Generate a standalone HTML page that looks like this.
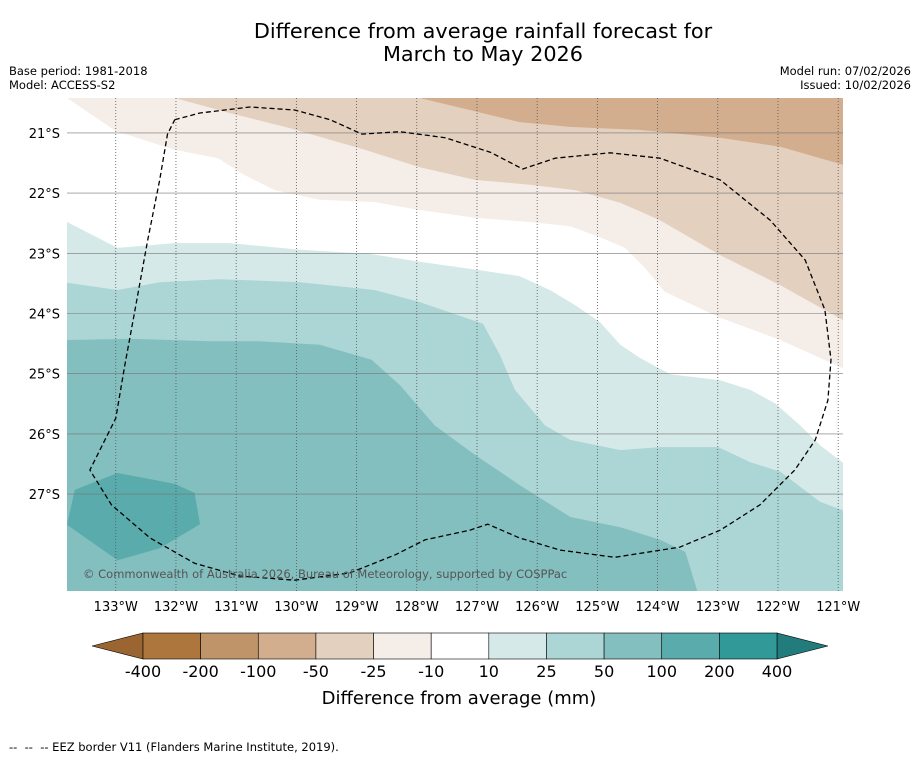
<!DOCTYPE html>
<html><head><meta charset="utf-8"><style>
html,body{margin:0;padding:0;background:#fff;}
body{width:919px;height:758px;overflow:hidden;font-family:"DejaVu Sans","Liberation Sans",sans-serif;}
svg text{font-family:"DejaVu Sans","Liberation Sans",sans-serif;}
</style></head><body>
<svg id="fig" width="919" height="758" viewBox="0 0 919 758">
<text x="483" y="38" font-size="20.8" text-anchor="middle">Difference from average rainfall forecast for</text>
<text x="483" y="61" font-size="20.8" text-anchor="middle">March to May 2026</text>
<text x="9" y="75" font-size="11.5">Base period: 1981-2018</text>
<text x="9" y="89" font-size="11.5">Model: ACCESS-S2</text>
<text x="911" y="75" font-size="11.5" text-anchor="end">Model run: 07/02/2026</text>
<text x="911" y="89" font-size="11.5" text-anchor="end">Issued: 10/02/2026</text>
<defs><clipPath id="mapclip"><rect x="67" y="98" width="776" height="493"/></clipPath></defs>
<g id="map" clip-path="url(#mapclip)"></g>
<g id="axes"></g>
<g id="cbar"></g>
<text x="459" y="704" font-size="18" text-anchor="middle">Difference from average (mm)</text>
<text x="9" y="751" font-size="11.5" xml:space="preserve">--  --  -- EEZ border V11 (Flanders Marine Institute, 2019).</text>
</svg>
<script>
// axis ticks
const lonTicks=[-133,-132,-131,-130,-129,-128,-127,-126,-125,-124,-123,-122,-121];
const latTicks=[-21,-22,-23,-24,-25,-26,-27];
// colorbar
const cbarLabels=["-400","-200","-100","-50","-25","-10","10","25","50","100","200","400"];
const cbarColors=["#ad763c","#c09469","#d2ad8e","#e3d0bf","#f5ede8","#ffffff","#d5e9e8","#acd5d5","#84bfbf","#5aabab","#329999"];
// contour boundaries [lon,lat]
const brownBand10=[[-133.81,-20.42],[-133,-20.97],[-132.02,-21.28],[-131.30,-21.42],[-130.86,-21.70],[-130.36,-21.95],[-129.61,-22.11],[-128.70,-22.15],[-127.95,-22.28],[-127.03,-22.41],[-126.12,-22.48],[-125.45,-22.55],[-124.96,-22.73],[-124.54,-22.91],[-124.21,-23.24],[-123.88,-23.64],[-122.96,-24.07],[-121.96,-24.44],[-120.92,-24.91]];
const brownBand25=[[-132.02,-20.42],[-131.11,-20.67],[-130.11,-20.92],[-128.86,-21.28],[-127.95,-21.57],[-127.03,-21.78],[-126.12,-21.86],[-125.37,-21.95],[-124.62,-22.16],[-123.96,-22.45],[-122.96,-23.03],[-121.96,-23.53],[-120.92,-24.11]];
const brownBand50=[[-127.95,-20.42],[-127.12,-20.62],[-126.29,-20.82],[-125.45,-20.90],[-124.29,-20.95],[-122.96,-21.08],[-121.96,-21.23],[-120.92,-21.53]];
const blueBand10=[[-133.81,-22.48],[-132.97,-22.91],[-132.02,-22.83],[-131.11,-22.83],[-129.94,-22.94],[-128.78,-23.01],[-127.95,-23.14],[-126.95,-23.28],[-126.29,-23.38],[-125.79,-23.61],[-125.37,-23.86],[-124.96,-24.14],[-124.62,-24.52],[-124.29,-24.74],[-123.79,-25.01],[-122.96,-25.11],[-122.46,-25.27],[-122.05,-25.49],[-121.63,-25.86],[-121.30,-26.19],[-120.92,-26.48]];
const blueBand25=[[-133.81,-23.49],[-132.97,-23.61],[-132.27,-23.48],[-131.27,-23.43],[-129.94,-23.48],[-128.70,-23.61],[-127.95,-23.81],[-126.90,-24.17],[-126.62,-24.69],[-126.37,-25.27],[-125.87,-25.86],[-125.45,-26.10],[-124.62,-26.27],[-123.96,-26.22],[-122.99,-26.22],[-122.46,-26.47],[-121.96,-26.63],[-121.30,-27.13],[-120.92,-27.27]];
const blueBand50=[[-133.81,-24.44],[-132.77,-24.42],[-131.44,-24.46],[-130.61,-24.46],[-129.61,-24.52],[-128.75,-24.77],[-128.28,-25.19],[-127.70,-25.86],[-127.03,-26.35],[-126.29,-26.85],[-125.45,-27.38],[-124.62,-27.55],[-123.96,-27.76],[-123.54,-27.96],[-123.34,-28.61]];
const blueBlob100=[[-133.68,-26.93],[-132.97,-26.65],[-132.02,-26.83],[-131.69,-26.98],[-131.60,-27.50],[-132.27,-27.90],[-132.97,-28.10],[-133.81,-27.51]];
const eez=[[-132.02,-20.78],[-131.60,-20.67],[-130.77,-20.57],[-130.03,-20.62],[-129.44,-20.78],[-128.91,-21.02],[-128.28,-20.98],[-127.53,-21.08],[-126.78,-21.32],[-126.24,-21.60],[-125.70,-21.42],[-124.79,-21.33],[-123.96,-21.42],[-122.96,-21.78],[-122.13,-22.45],[-121.55,-23.11],[-121.22,-23.94],[-121.12,-24.77],[-121.17,-25.44],[-121.38,-26.10],[-121.72,-26.60],[-122.30,-27.18],[-122.96,-27.60],[-123.63,-27.88],[-124.71,-28.05],[-125.62,-27.93],[-126.29,-27.73],[-126.82,-27.50],[-127.12,-27.60],[-127.86,-27.76],[-128.36,-28.01],[-129.11,-28.31],[-130.03,-28.43],[-130.94,-28.36],[-131.69,-28.15],[-132.43,-27.73],[-133.07,-27.18],[-133.43,-26.60],[-133.0,-25.74],[-132.85,-24.86],[-132.68,-23.94],[-132.47,-22.78],[-132.27,-21.78],[-132.14,-21.02],[-132.02,-20.78]];

const LON0=-133.81,LON1=-120.92,LAT0=-20.42,LAT1=-28.61;
function xs(lon){return 67+(lon-LON0)/(LON1-LON0)*776;}
function ys(lat){return 98+(LAT0-lat)/(LAT0-LAT1)*493;}
const NS='http://www.w3.org/2000/svg';
function mk(tag,attrs,parent){const e=document.createElementNS(NS,tag);for(const k in attrs)e.setAttribute(k,attrs[k]);parent.appendChild(e);return e;}
function pts(arr){return arr.map(p=>xs(p[0]).toFixed(1)+','+ys(p[1]).toFixed(1)).join(' ');}
const map=document.getElementById('map');
let bg=mk('rect',{x:67,y:98,width:776,height:493,fill:'#ffffff'},map);


function fillAbove(arr,color,name){
  const p=arr.concat([[LON1,LAT0],[arr[0][0],LAT0]]);
  const e=mk('polygon',{points:pts(p),fill:color},map);
  
  
}
function fillBelow(arr,color,name){
  const last=arr[arr.length-1];
  const p=arr.concat([[last[0]>=LON1-0.01?LON1:last[0],LAT1],[LON0,LAT1]]);
  const e=mk('polygon',{points:pts(p),fill:color},map);
  
  
}
fillAbove(brownBand10,'#f5ede8','band-minus-10');
fillAbove(brownBand25,'#e3d0bf','band-minus-25');
fillAbove(brownBand50,'#d2ad8e','band-minus-50');
fillBelow(blueBand10,'#d5e9e8','band-plus-10');
fillBelow(blueBand25,'#acd5d5','band-plus-25');
fillBelow(blueBand50,'#84bfbf','band-plus-50');
let blob=mk('polygon',{points:pts(blueBlob100),fill:'#5aabab'},map);


// gridlines
lonTicks.forEach(l=>{const g=mk('line',{x1:xs(l),x2:xs(l),y1:98,y2:591,stroke:'#555','stroke-width':0.8,'stroke-dasharray':'1,2'},map);

});
latTicks.forEach(l=>{const g=mk('line',{x1:67,x2:843,y1:ys(l),y2:ys(l),stroke:'#777','stroke-width':0.6},map);

});
let ez=mk('polyline',{points:pts(eez),fill:'none',stroke:'#000','stroke-width':1.3,'stroke-dasharray':'5,3'},map);


let cp=mk('text',{x:83,y:578,'font-size':11.5,fill:'#555'},map);
cp.textContent='© Commonwealth of Australia 2026, Bureau of Meteorology, supported by COSPPac';


const axes=document.getElementById('axes');
lonTicks.forEach(l=>{const t=mk('text',{x:xs(l),y:611,'font-size':13,'text-anchor':'middle'},axes);t.textContent=Math.abs(l)+'°W';

});
latTicks.forEach(l=>{const t=mk('text',{x:60,y:ys(l)+5,'font-size':13,'text-anchor':'end'},axes);t.textContent=Math.abs(l)+'°S';

});
// colorbar
const cb=document.getElementById('cbar');
const cx0=143,cx1=777,cy=633,ch=26,bw=(cx1-cx0)/cbarColors.length;
let la=mk('polygon',{points:`92,646 ${cx0},${cy} ${cx0},${cy+ch}`,fill:'#9a6530',stroke:'#000','stroke-width':0.6},cb);


let ra=mk('polygon',{points:`828,646 ${cx1},${cy} ${cx1},${cy+ch}`,fill:'#237c7c',stroke:'#000','stroke-width':0.6},cb);


cbarColors.forEach((c,i)=>{const r=mk('rect',{x:cx0+i*bw,y:cy,width:bw,height:ch,fill:c,stroke:'#000','stroke-width':0.6},cb);

});
cbarLabels.forEach((s,i)=>{const t=mk('text',{x:cx0+i*bw,y:677,'font-size':16,'text-anchor':'middle'},cb);t.textContent=s;

});
</script>
</body></html>
